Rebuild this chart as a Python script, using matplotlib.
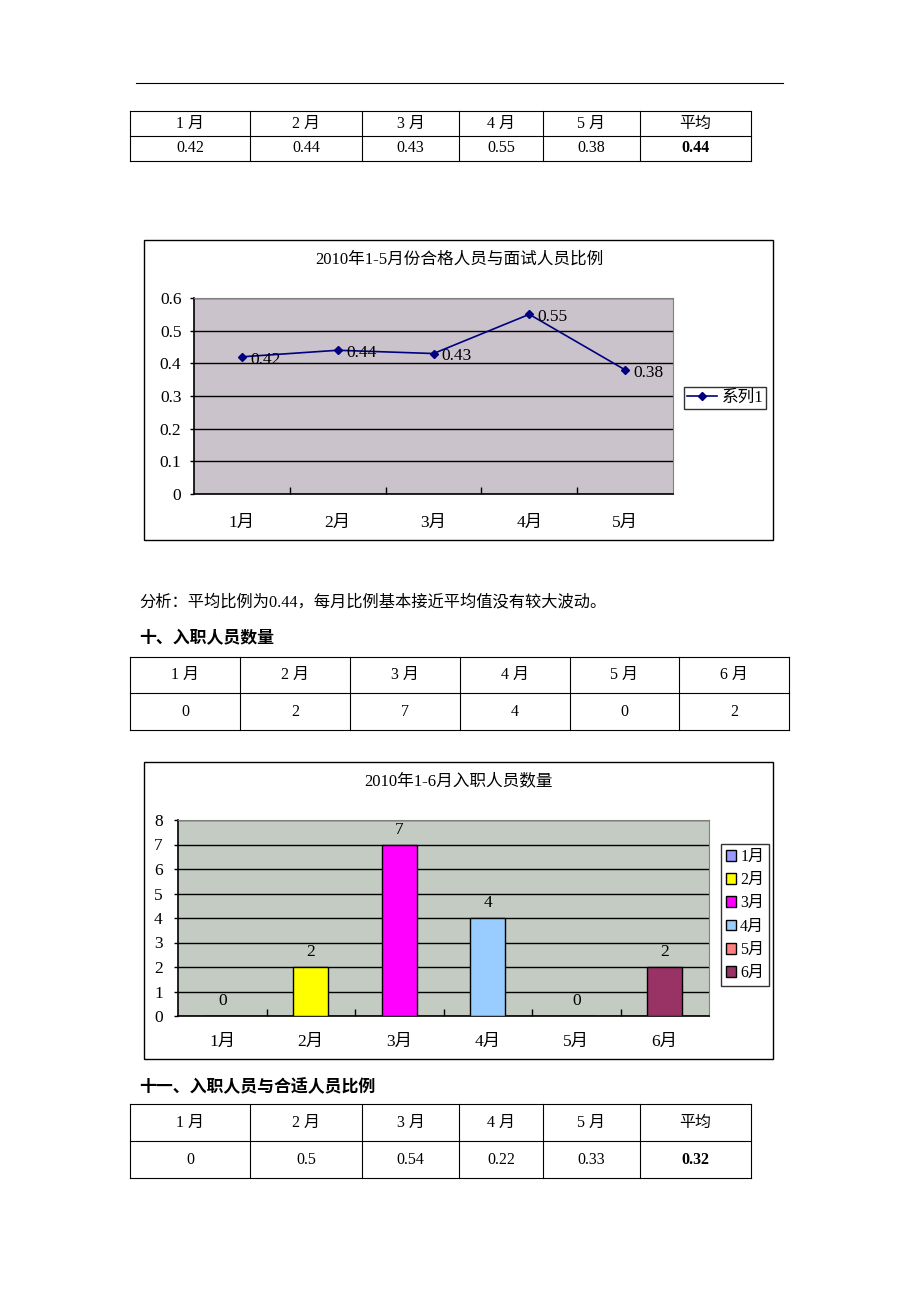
import matplotlib
matplotlib.use("Agg")
import matplotlib.pyplot as plt
from matplotlib.lines import Line2D
from matplotlib.patches import Rectangle

# ---------------- data ----------------
months5 = ['1月', '2月', '3月', '4月', '5月']
ratio_pass = [0.42, 0.44, 0.43, 0.55, 0.38]
ratio_pass_avg = 0.44
series_name = '系列1'

months6 = ['1月', '2月', '3月', '4月', '5月', '6月']
hires = [0, 2, 7, 4, 0, 2]
bar_colors = ['#9999FF', '#FFFF00', '#FF00FF', '#99CCFF', '#FF8080', '#993366']

ratio_fit = [0, 0.5, 0.54, 0.22, 0.33]
ratio_fit_avg = 0.32

table_head5 = ['1 月', '2 月', '3 月', '4 月', '5 月', '平均']
table_head6 = ['1 月', '2 月', '3 月', '4 月', '5 月', '6 月']

title1 = '2010年1-5月份合格人员与面试人员比例'
title2 = '2010年1-6月入职人员数量'
analysis = '分析：平均比例为0.44，每月比例基本接近平均值没有较大波动。'
heading10 = '十、入职人员数量'
heading11 = '十一、入职人员与合适人员比例'

# ---------------- page setup ----------------
W, H = 920, 1302
fig = plt.figure(figsize=(W / 100, H / 100), dpi=100)
fig.patch.set_facecolor('white')

SERIF = ['Liberation Serif', 'Noto Sans CJK SC']
CJK = ['Noto Sans CJK SC', 'DejaVu Sans']
CFS = 12.5  # chart font size


def fx(x):
    return x / W


def fy(y):
    return 1 - y / H


def hline(x0, x1, y, lw=0.8, color='black'):
    fig.add_artist(Line2D([fx(x0), fx(x1)], [fy(y), fy(y)], lw=lw, color=color))


def vline(x, y0, y1, lw=0.8, color='black'):
    fig.add_artist(Line2D([fx(x), fx(x)], [fy(y0), fy(y1)], lw=lw, color=color))


def draw_table(cols, rows, cells, bold_last=False):
    for y in rows:
        hline(cols[0], cols[-1], y)
    for x in cols:
        vline(x, rows[0], rows[-1])
    for r, row in enumerate(cells):
        yc = (rows[r] + rows[r + 1]) / 2
        for c, txt in enumerate(row):
            xc = (cols[c] + cols[c + 1]) / 2
            weight = 'bold' if (bold_last and r == 1 and c == len(row) - 1) else 'normal'
            fig.text(fx(xc), fy(yc), txt, ha='center', va='center',
                     fontsize=11.5, family=SERIF, fontweight=weight)


def box(x0, y0, x1, y1):
    fig.add_artist(Rectangle((fx(x0), fy(y1)), fx(x1) - fx(x0), fy(y0) - fy(y1),
                             fill=False, edgecolor='black', lw=1.0))


def axes_px(x0, y0, x1, y1):
    return fig.add_axes([fx(x0), fy(y1), fx(x1) - fx(x0), fy(y0) - fy(y1)])


# top rule
hline(136, 783, 83, lw=0.8)

# table 1
cols5 = [130, 250, 362, 459, 543, 640, 751]
draw_table(cols5, [111, 136, 161],
           [table_head5, [f'{v:g}' for v in ratio_pass] + [f'{ratio_pass_avg:g}']],
           bold_last=True)

# ---------------- chart 1: line ----------------
box(144, 240, 773, 540)
fig.text(fx(459), fy(260), title1, ha='center', va='center', fontsize=12, family=SERIF)
ax1 = axes_px(194, 298, 673, 494)
ax1.set_facecolor('#cbc3cb')
x5 = list(range(len(months5)))
line, = ax1.plot(x5, ratio_pass, color='#000080', lw=1.2, marker='D', ms=4.5,
                 mfc='#000080', mec='#000080', label=series_name)
for xi, v in zip(x5, ratio_pass):
    ax1.annotate(f'{v:g}', (xi, v), xytext=(6, -2), textcoords='offset points',
                 ha='left', va='center', fontsize=CFS, family=SERIF)
ax1.set_xlim(-0.5, len(months5) - 0.5)
ax1.set_ylim(0, 0.6)
ax1.set_yticks([0, 0.1, 0.2, 0.3, 0.4, 0.5, 0.6])
ax1.set_yticklabels(['0', '0.1', '0.2', '0.3', '0.4', '0.5', '0.6'], family=SERIF, fontsize=CFS)
ax1.yaxis.grid(True, color='black', lw=1.0)
ax1.set_axisbelow(True)
ax1.set_xticks([i + 0.5 for i in x5[:-1]])
ax1.set_xticklabels([])
ax1.tick_params(axis='x', which='major', direction='in', length=5, width=1)
ax1.set_xticks(x5, minor=True)
ax1.set_xticklabels(months5, minor=True, family=SERIF, fontsize=CFS)
ax1.tick_params(axis='x', which='minor', length=0, pad=15)
ax1.tick_params(axis='y', length=3, width=1, pad=6)
for s in ['top', 'right']:
    ax1.spines[s].set_color('#808080')
for s in ['left', 'bottom']:
    ax1.spines[s].set_color('black')
    ax1.spines[s].set_linewidth(1.2)
leg1 = ax1.legend(handles=[line], loc='center left',
                  bbox_to_anchor=(fx(684), fy(398)), bbox_transform=fig.transFigure,
                  fancybox=False, frameon=True, prop={'family': SERIF, 'size': 12},
                  handlelength=1.8, borderpad=0.2, handletextpad=0.25, borderaxespad=0)
leg1.get_frame().set_edgecolor('black')
leg1.get_frame().set_linewidth(1.0)

# analysis + heading
fig.text(fx(139), fy(602), analysis, ha='left', va='center', fontsize=11.7, family=SERIF)
fig.text(fx(139), fy(638), heading10, ha='left', va='center', fontsize=12.2,
         family=CJK, fontweight='bold')

# table 2
cols6 = [130, 240, 350, 460, 570, 679, 789]
draw_table(cols6, [657, 693, 730], [table_head6, [str(v) for v in hires]])

# ---------------- chart 2: bars ----------------
box(144, 762, 773, 1059)
fig.text(fx(459), fy(781), title2, ha='center', va='center', fontsize=12, family=SERIF)
ax2 = axes_px(178, 820, 709, 1016)
ax2.set_facecolor('#c3cbc3')
x6 = list(range(len(months6)))
bars = ax2.bar(x6, hires, width=0.4, color=bar_colors, edgecolor='black', lw=1.0, zorder=3)
for xi, v in zip(x6, hires):
    ax2.text(xi, v + 0.6, str(v), ha='center', va='center', fontsize=CFS, family=SERIF, zorder=4)
ax2.set_xlim(-0.5, len(months6) - 0.5)
ax2.set_ylim(0, 8)
ax2.set_yticks(range(0, 9))
ax2.set_yticklabels([str(i) for i in range(0, 9)], family=SERIF, fontsize=CFS)
ax2.yaxis.grid(True, color='black', lw=1.0, zorder=1)
ax2.set_axisbelow(True)
ax2.set_xticks([i + 0.5 for i in x6[:-1]])
ax2.set_xticklabels([])
ax2.tick_params(axis='x', which='major', direction='in', length=5, width=1)
ax2.set_xticks(x6, minor=True)
ax2.set_xticklabels(months6, minor=True, family=SERIF, fontsize=CFS)
ax2.tick_params(axis='x', which='minor', length=0, pad=13)
ax2.tick_params(axis='y', length=3, width=1, pad=8)
for s in ['top', 'right']:
    ax2.spines[s].set_color('#808080')
for s in ['left', 'bottom']:
    ax2.spines[s].set_color('black')
    ax2.spines[s].set_linewidth(1.2)
leg2 = ax2.legend(handles=list(bars), labels=months6, loc='center left',
                  bbox_to_anchor=(fx(721), fy(915)), bbox_transform=fig.transFigure,
                  fancybox=False, frameon=True, prop={'family': SERIF, 'size': 11.5},
                  handlelength=0.65, handleheight=0.65, borderpad=0.3, handletextpad=0.25,
                  labelspacing=0.45, borderaxespad=0)
leg2.get_frame().set_edgecolor('black')
leg2.get_frame().set_linewidth(1.0)

# heading 11 + table 3
fig.text(fx(139), fy(1086), heading11, ha='left', va='center', fontsize=12.2,
         family=CJK, fontweight='bold')
draw_table(cols5, [1104, 1141, 1178],
           [table_head5, [f'{v:g}' for v in ratio_fit] + [f'{ratio_fit_avg:g}']],
           bold_last=True)

fig.savefig('out.png', dpi=100, facecolor='white')
